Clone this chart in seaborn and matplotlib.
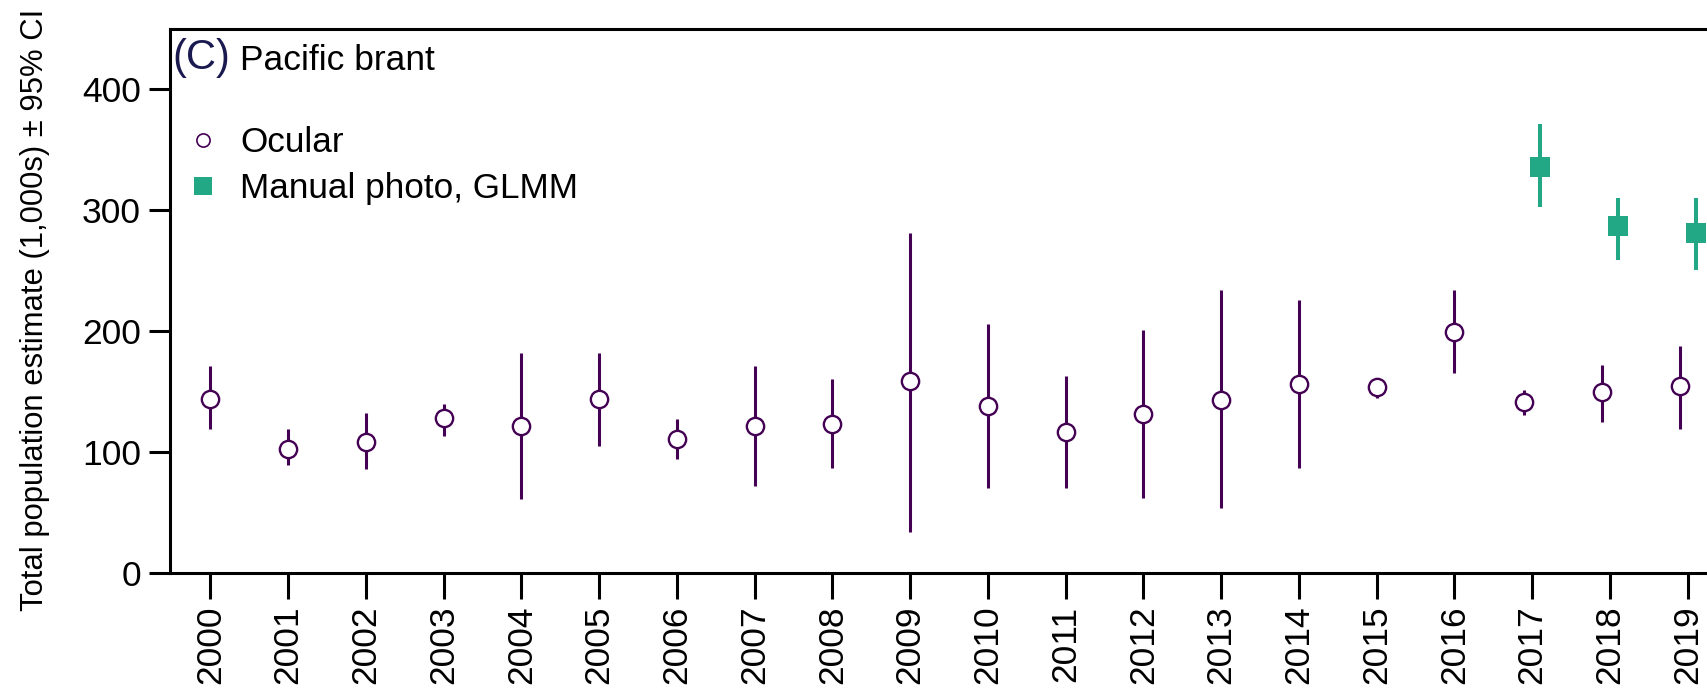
import numpy as np
import pandas as pd
import matplotlib
matplotlib.use("Agg")
import matplotlib.pyplot as plt
from matplotlib.lines import Line2D
import seaborn as sns

# valores (miles de aves)
years = list(range(2000, 2020))
ocular_est = [144, 103, 108.5, 128, 121.5, 143.5, 111, 121.5, 123, 158.5,
              138, 117, 131.5, 143, 156.5, 154, 199.5, 141.5, 149.5, 154.5]
ocular_lo = [119, 89, 86, 113.5, 61.5, 105, 94.5, 72, 86.5, 34.5,
             70, 70, 62, 53.5, 86.5, 144.5, 165.5, 130.5, 124.5, 119.5]
ocular_hi = [171, 119, 132, 140, 182, 182, 127, 171, 160, 280.5,
             206, 162.5, 201, 234, 225.5, 160, 233.5, 151, 172, 187.5]

photo_years = [2017, 2018, 2019]
photo_est = [335.5, 286.5, 281]
photo_lo = [302.5, 258.5, 250]
photo_hi = [371, 310, 310]

ocular_lab = "Ocular"
photo_lab = "Manual photo, GLMM"
purple = "#440154"
green = "#22A884"

df_oc = pd.DataFrame({"year": years, "est": ocular_est, "lo": ocular_lo, "hi": ocular_hi})
df_ph = pd.DataFrame({"year": photo_years, "est": photo_est, "lo": photo_lo, "hi": photo_hi})
# desplazamiento cuando hay las dos series en el mismo anio
df_oc["x"] = df_oc["year"] - np.where(df_oc["year"].isin(photo_years), 0.1, 0.0)
df_ph["x"] = df_ph["year"] + 0.1

sns.set_style("ticks")
plt.rcParams["font.family"] = ["Liberation Sans", "DejaVu Sans"]
for k in ["text.color", "axes.labelcolor", "xtick.color", "ytick.color", "axes.edgecolor"]:
    plt.rcParams[k] = "black"

W, H = 1708, 692
fig = plt.figure(figsize=(W / 100, H / 100), dpi=100)
ax = fig.add_axes([170.3 / W, (H - 573.3) / H, 1595.2 / W, 544 / H])

# intervalos de confianza
ax.vlines(df_oc["x"], df_oc["lo"], df_oc["hi"], color=purple, lw=2.2, zorder=2)
ax.vlines(df_ph["x"], df_ph["lo"], df_ph["hi"], color=green, lw=2.9, zorder=2)

sns.scatterplot(data=df_oc, x="x", y="est", ax=ax, marker="o", s=155,
                color="white", edgecolor=purple, linewidth=1.7, zorder=3, legend=False)
sns.scatterplot(data=df_ph, x="x", y="est", ax=ax, marker="s", s=207,
                color=green, linewidth=0, zorder=3, legend=False)

ax.set_xlim(1999.486, 2020.0)
ax.set_ylim(0, 449)
ax.set_xticks(years)
ax.set_xticklabels([str(y) for y in years], rotation=90, fontsize=25.5)
ax.set_yticks([0, 100, 200, 300, 400])
ax.tick_params(axis="y", labelsize=25.5, length=15, width=2.2, pad=6)
ax.tick_params(axis="x", length=18.5, width=2.2, pad=4.7)
ax.set_xlabel("")
ax.set_ylabel("Total population estimate (1,000s) \u00b1 95% CI", fontsize=22.3)
ax.yaxis.set_label_coords(-0.0754, 0.485)

for side in ["left", "bottom", "top", "right"]:
    ax.spines[side].set_visible(True)
    ax.spines[side].set_linewidth(2.2)

# titulo del panel
fig.text(172 / W, 1 - 69.5 / H, "(C)", fontsize=30, color="#1a1a50", va="baseline", ha="left")
fig.text(240.5 / W, 1 - 69.5 / H, "Pacific brant", fontsize=25.5, va="baseline", ha="left")

handles = [
    Line2D([], [], marker="o", linestyle="none", markerfacecolor="white",
           markeredgecolor=purple, markersize=9.5, markeredgewidth=1.2),
    Line2D([], [], marker="s", linestyle="none", markerfacecolor=green,
           markeredgewidth=0, markersize=13.5),
]
ax.legend(handles, [ocular_lab, photo_lab], loc="upper left",
          bbox_to_anchor=(185.2 / W, 1 - 126 / H), bbox_transform=fig.transFigure,
          frameon=False, fontsize=25.3, borderpad=0, borderaxespad=0,
          handlelength=1.0, handletextpad=0.56, labelspacing=0.38)

fig.savefig("out.png", dpi=100)
